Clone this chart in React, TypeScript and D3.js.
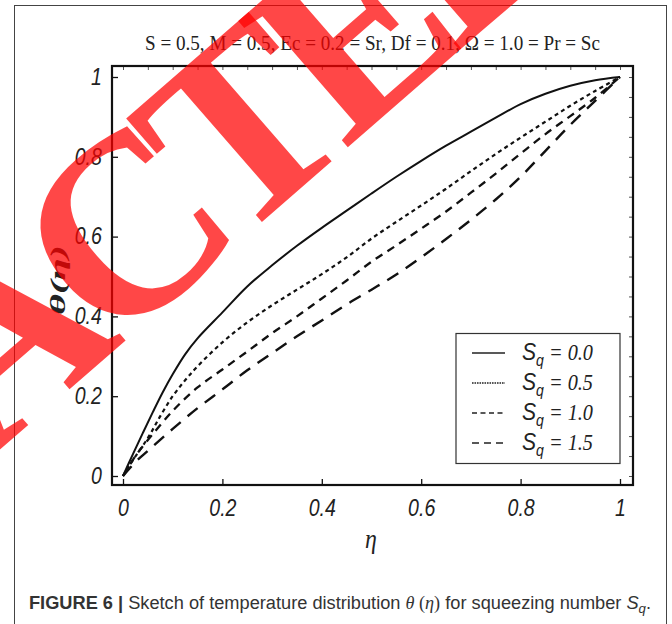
import React, { useEffect, useRef } from "react";
import * as d3 from "d3";

// eta grid + theta values, one array per S_q curve
const etaSq00 = [0, 0.02, 0.04, 0.06, 0.08, 0.1, 0.125, 0.15, 0.2, 0.25, 0.3, 0.35, 0.4, 0.45, 0.5, 0.55, 0.6, 0.65, 0.7, 0.75, 0.8, 0.85, 0.9, 0.95, 1];
const thetaSq00 = [0, 0.055, 0.108, 0.16, 0.21, 0.255, 0.305, 0.345, 0.41, 0.475, 0.528, 0.577, 0.622, 0.665, 0.708, 0.75, 0.79, 0.828, 0.863, 0.898, 0.932, 0.958, 0.978, 0.992, 1];

const etaSq05 = [0, 0.02, 0.05, 0.075, 0.1, 0.125, 0.15, 0.2, 0.25, 0.3, 0.35, 0.4, 0.45, 0.5, 0.55, 0.6, 0.65, 0.7, 0.75, 0.8, 0.85, 0.9, 0.95, 1];
const thetaSq05 = [0, 0.04, 0.095, 0.15, 0.2, 0.24, 0.275, 0.335, 0.385, 0.428, 0.467, 0.506, 0.548, 0.595, 0.637, 0.678, 0.72, 0.764, 0.807, 0.848, 0.888, 0.928, 0.965, 1];

const etaSq10 = [0, 0.025, 0.05, 0.1, 0.15, 0.2, 0.25, 0.3, 0.35, 0.4, 0.45, 0.5, 0.55, 0.6, 0.65, 0.7, 0.75, 0.8, 0.85, 0.9, 0.95, 1];
const thetaSq10 = [0, 0.05, 0.09, 0.163, 0.222, 0.267, 0.312, 0.358, 0.4, 0.445, 0.49, 0.537, 0.578, 0.62, 0.663, 0.71, 0.758, 0.808, 0.857, 0.902, 0.948, 1];

const etaSq15 = [0, 0.025, 0.05, 0.1, 0.15, 0.2, 0.25, 0.3, 0.35, 0.4, 0.45, 0.5, 0.55, 0.6, 0.65, 0.7, 0.75, 0.8, 0.85, 0.9, 0.95, 1];
const thetaSq15 = [0, 0.035, 0.063, 0.118, 0.17, 0.217, 0.265, 0.308, 0.35, 0.39, 0.43, 0.467, 0.505, 0.548, 0.594, 0.642, 0.693, 0.75, 0.815, 0.88, 0.94, 1];

const legendLabels = ["0.0", "0.5", "1.0", "1.5"];
const majorTicks = [0, 0.2, 0.4, 0.6, 0.8, 1];
const minorTicks = d3.range(0, 21).map((i) => i / 20);

const title = "S = 0.5, M = 0.5, Ec = 0.2 = Sr, Df = 0.1, \u03a9 = 1.0 = Pr = Sc";

const App = () => {
  const ref = useRef<SVGSVGElement>(null);

  useEffect(() => {
    const svg = d3.select(ref.current);
    svg.selectAll("*").remove();

    const series = [
      { eta: etaSq00, theta: thetaSq00, dash: null, width: 2, legDash: null },
      { eta: etaSq05, theta: thetaSq05, dash: "4,3.5", width: 2.2, legDash: "1.6,0.9" },
      { eta: etaSq10, theta: thetaSq10, dash: "8,6", width: 2.3, legDash: "5,3.5" },
      { eta: etaSq15, theta: thetaSq15, dash: "13,9", width: 2.4, legDash: "7,5" },
    ];

    const x = d3.scaleLinear().domain([0, 1]).range([123, 620]);
    const y = d3.scaleLinear().domain([0, 1]).range([476, 77]);
    const left = 112, right = 633, top = 66, bottom = 485;
    const sans = "'Liberation Sans Narrow', 'Liberation Sans'";

    // outer figure frame
    svg.append("rect")
      .attr("x", 14.5).attr("y", 5.5).attr("width", 652).attr("height", 640)
      .attr("fill", "none").attr("stroke", "#444").attr("stroke-width", 1);

    svg.append("text")
      .attr("x", 145).attr("y", 50)
      .attr("textLength", 455).attr("lengthAdjust", "spacingAndGlyphs")
      .attr("font-family", "Liberation Serif").attr("font-size", 22).attr("fill", "#222")
      .text(title);

    const fmt = (v: number) => String(+v.toFixed(1));
    const tickFont = (g: any) => g.selectAll("text")
      .attr("font-family", sans)
      .attr("font-style", "italic").attr("font-size", 23).attr("fill", "#222")
      .attr("transform", "scale(0.85,1)");

    // bottom + left axes, ticks inward
    const gb = svg.append("g").attr("transform", `translate(0,${bottom})`);
    gb.call(d3.axisBottom(x).tickValues(minorTicks).tickSize(-4).tickFormat(() => ""));
    gb.call(d3.axisBottom(x).tickValues(majorTicks).tickSize(-6).tickPadding(15).tickFormat(fmt as any));
    const gl = svg.append("g").attr("transform", `translate(${left},0)`);
    gl.call(d3.axisLeft(y).tickValues(minorTicks).tickSize(-4).tickFormat(() => ""));
    gl.call(d3.axisLeft(y).tickValues(majorTicks).tickSize(-6).tickPadding(12).tickFormat(fmt as any));
    [gb, gl].forEach((g) => {
      g.selectAll(".domain").remove();
      g.selectAll("line").attr("stroke", "#111").attr("stroke-width", 1.3);
      tickFont(g);
    });

    // small top/right ticks
    const gt = svg.append("g").attr("transform", `translate(0,${top})`);
    gt.call(d3.axisTop(x).tickValues(minorTicks).tickSize(-4).tickFormat(() => ""));
    const gr = svg.append("g").attr("transform", `translate(${right},0)`);
    gr.call(d3.axisRight(y).tickValues(minorTicks).tickSize(-4).tickFormat(() => ""));
    [gt, gr].forEach((g) => {
      g.selectAll(".domain").remove();
      g.selectAll("line").attr("stroke", "#555").attr("stroke-width", 1);
    });

    svg.append("rect")
      .attr("x", left).attr("y", top).attr("width", right - left).attr("height", bottom - top)
      .attr("fill", "none").attr("stroke", "#111").attr("stroke-width", 2.2);

    const line = d3.line<[number, number]>()
      .x((d) => x(d[0])).y((d) => y(d[1]))
      .curve(d3.curveCatmullRom.alpha(0.5));

    series.forEach((s) => {
      const pts = s.eta.map((e, i) => [e, s.theta[i]] as [number, number]);
      svg.append("path")
        .attr("d", line(pts))
        .attr("fill", "none").attr("stroke", "#111")
        .attr("stroke-width", s.width)
        .attr("stroke-dasharray", s.dash);
    });

    // legend
    const lg = svg.append("g");
    lg.append("rect")
      .attr("x", 456).attr("y", 333.5).attr("width", 164).attr("height", 130)
      .attr("fill", "#fff").attr("stroke", "#333").attr("stroke-width", 1.2);
    legendLabels.forEach((lab, i) => {
      const yy = 353 + i * 30;
      lg.append("line")
        .attr("x1", 472).attr("x2", 505).attr("y1", yy).attr("y2", yy)
        .attr("stroke", "#222").attr("stroke-width", series[i].dash ? 1.3 : 1.6)
        .attr("stroke-dasharray", series[i].legDash);
      const t = lg.append("text")
        .attr("transform", `translate(522,${yy + 7}) scale(0.88,1)`).attr("fill", "#222");
      t.append("tspan").attr("font-family", sans)
        .attr("font-style", "italic").attr("font-size", 24).text("S");
      t.append("tspan").attr("font-family", sans)
        .attr("font-style", "italic").attr("font-size", 16).attr("dy", 6).text("q");
      t.append("tspan").attr("font-family", "Liberation Serif")
        .attr("font-style", "italic").attr("font-size", 23).attr("dy", -6).text(" = " + lab);
    });

    // axis titles
    svg.append("text")
      .attr("transform", "translate(371,548) scale(0.85,1)").attr("text-anchor", "middle")
      .attr("font-family", "Liberation Serif").attr("font-style", "italic")
      .attr("font-size", 28).attr("fill", "#222").text("\u03b7");
    svg.append("text")
      .attr("transform", "translate(65,315) scale(0.75,1) rotate(-90)")
      .attr("textLength", 70).attr("lengthAdjust", "spacingAndGlyphs")
      .attr("font-family", "Liberation Serif").attr("font-style", "italic").attr("font-weight", "bold")
      .attr("font-size", 28).attr("fill", "#222").text("\u03b8(\u03b7)");

    // caption
    const cap = svg.append("text").attr("x", 29).attr("y", 609)
      .attr("textLength", 622).attr("lengthAdjust", "spacingAndGlyphs")
      .attr("font-family", "Liberation Sans").attr("font-size", 18).attr("fill", "#333");
    cap.append("tspan").attr("font-weight", "bold").text("FIGURE 6 | ");
    cap.append("tspan").text("Sketch of temperature distribution ");
    cap.append("tspan").attr("font-family", "Liberation Serif").attr("font-style", "italic").text("\u03b8");
    cap.append("tspan").attr("font-family", "Liberation Serif").text(" (");
    cap.append("tspan").attr("font-family", "Liberation Serif").attr("font-style", "italic").text("\u03b7");
    cap.append("tspan").attr("font-family", "Liberation Serif").text(")");
    cap.append("tspan").text(" for squeezing number ");
    cap.append("tspan").attr("font-style", "italic").text("S");
    cap.append("tspan").attr("font-style", "italic").attr("font-size", 13).attr("dy", 4).text("q");
    cap.append("tspan").attr("dy", -4).text(".");

    // retraction stamp, baseline origin at the start of "A"
    const stamp = svg.append("g")
      .attr("transform", "translate(-12,460) rotate(-41)")
      .attr("font-family", "Liberation Serif").attr("font-weight", "bold")
      .attr("font-size", 255).attr("letter-spacing", -22)
      .attr("fill", "#ff0000").attr("fill-opacity", 0.72);
    stamp.append("text").attr("x", -22).attr("text-anchor", "end").text("RETR");
    stamp.append("text").attr("x", 0).text("ACTED");
  }, []);

  return (
    <svg
      ref={ref}
      width={672}
      height={624}
      style={{ position: "absolute", left: 0, top: 0, background: "#fff" }}
    />
  );
};

export default App;
